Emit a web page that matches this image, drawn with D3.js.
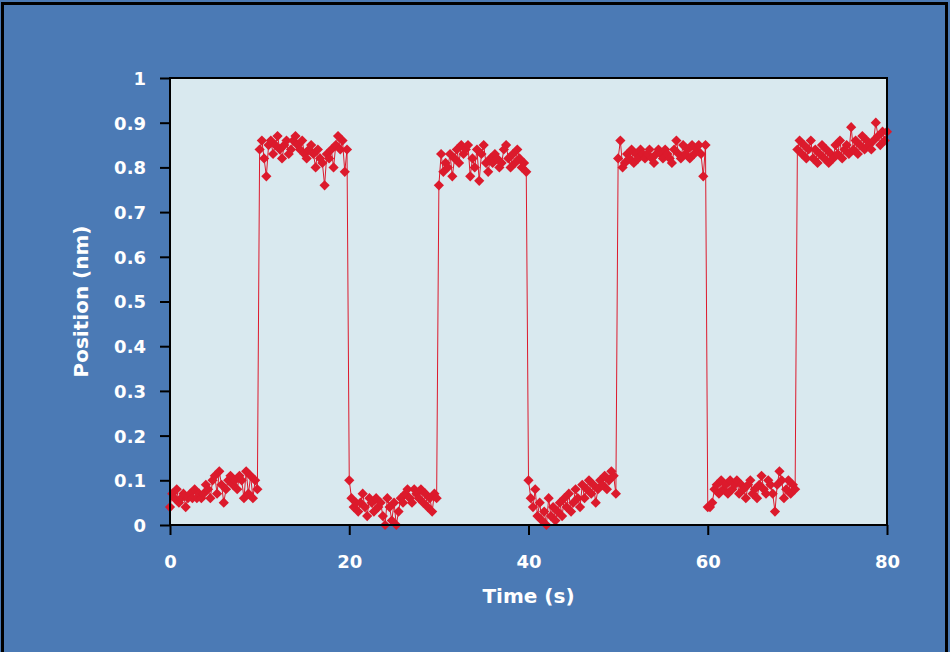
<!DOCTYPE html>
<html>
<head>
<meta charset="utf-8">
<script src="https://cdn.jsdelivr.net/npm/d3@7"></script>
<style>
  html, body { margin: 0; padding: 0; background: #ffffff; }
  svg { display: block; }
  .tick-label { font-family: "DejaVu Sans", sans-serif; font-weight: 700; font-size: 18px; fill: #ffffff; }
  .axis-title { font-family: "DejaVu Sans", sans-serif; font-weight: 700; font-size: 20px; fill: #ffffff; }
</style>
</head>
<body>
<svg id="chart" width="950" height="652"></svg>
<script>
// sample interval of the trace, seconds
const sampleStep = 0.25;

// position readings (nm), one array per 10 s dwell
const low1  = [0.04,0.07,0.06,0.08,0.05,0.06,0.07,0.04,0.06,0.07,
               0.06,0.08,0.06,0.07,0.06,0.07,0.09,0.08,0.06,0.10,
               0.11,0.07,0.12,0.09,0.05,0.08,0.10,0.11,0.09,0.10,
               0.08,0.11,0.10,0.06,0.12,0.07,0.11,0.06,0.10,0.08];
const high1 = [0.84,0.86,0.82,0.78,0.85,0.86,0.83,0.85,0.87,0.84,
               0.82,0.85,0.86,0.83,0.84,0.86,0.87,0.85,0.84,0.86,
               0.83,0.82,0.84,0.85,0.83,0.80,0.84,0.82,0.81,0.76,
               0.83,0.82,0.84,0.80,0.85,0.87,0.84,0.86,0.79,0.84];
const low2  = [0.10,0.06,0.04,0.05,0.03,0.05,0.07,0.04,0.02,0.06,
               0.05,0.03,0.06,0.04,0.05,0.02,0.00,0.06,0.04,0.01,
               0.05,0.00,0.03,0.06,0.05,0.07,0.08,0.06,0.05,0.08,
               0.07,0.06,0.08,0.05,0.07,0.04,0.06,0.03,0.07,0.06];
const high2 = [0.76,0.83,0.79,0.81,0.80,0.83,0.78,0.82,0.84,0.81,
               0.85,0.83,0.84,0.85,0.78,0.82,0.80,0.84,0.77,0.83,
               0.85,0.81,0.79,0.82,0.81,0.83,0.82,0.80,0.81,0.84,
               0.85,0.82,0.80,0.83,0.81,0.84,0.82,0.80,0.81,0.79];
const low3  = [0.10,0.06,0.04,0.08,0.02,0.05,0.01,0.03,0.00,0.06,
               0.02,0.04,0.01,0.03,0.05,0.02,0.06,0.04,0.07,0.03,
               0.05,0.08,0.06,0.04,0.09,0.06,0.08,0.10,0.07,0.09,
               0.05,0.08,0.10,0.09,0.11,0.08,0.10,0.12,0.11,0.07];
const high3 = [0.82,0.86,0.80,0.81,0.83,0.82,0.84,0.81,0.83,0.82,
               0.84,0.83,0.82,0.83,0.84,0.82,0.81,0.83,0.84,0.83,
               0.82,0.84,0.83,0.82,0.81,0.84,0.86,0.83,0.82,0.85,
               0.83,0.84,0.82,0.85,0.83,0.84,0.85,0.83,0.78,0.85];
const low4  = [0.04,0.04,0.05,0.08,0.09,0.07,0.10,0.08,0.09,0.07,
               0.10,0.08,0.09,0.10,0.07,0.09,0.08,0.06,0.09,0.10,
               0.07,0.08,0.06,0.09,0.11,0.08,0.07,0.10,0.09,0.07,
               0.03,0.09,0.12,0.10,0.06,0.08,0.10,0.07,0.09,0.08];
const high4 = [0.84,0.86,0.83,0.85,0.82,0.84,0.86,0.82,0.84,0.81,
               0.83,0.85,0.82,0.84,0.81,0.83,0.82,0.85,0.83,0.86,
               0.82,0.84,0.85,0.83,0.89,0.84,0.86,0.83,0.85,0.87,
               0.84,0.86,0.85,0.84,0.86,0.90,0.87,0.85,0.88,0.86,0.88];

const xTicks = [0, 20, 40, 60, 80];
const yTicks = [0, 0.1, 0.2, 0.3, 0.4, 0.5, 0.6, 0.7, 0.8, 0.9, 1];

const positions = [].concat(low1, high1, low2, high2, low3, high3, low4, high4);
const trace = positions.map(function (v, i) { return {t: i * sampleStep, pos: v}; });

const svg = d3.select("#chart");
const margin = {top: 78, right: 63, bottom: 127, left: 170};
const width = 950 - margin.left - margin.right;
const height = 652 - margin.top - margin.bottom;

// page background and outer frame
svg.append("rect")
    .attr("x", 0).attr("y", 0).attr("width", 950).attr("height", 652)
    .attr("fill", "#4b7ab5");
svg.append("rect")
    .attr("x", 2.5).attr("y", 3.5).attr("width", 944).attr("height", 660)
    .attr("fill", "none").attr("stroke", "#000").attr("stroke-width", 3);

const x = d3.scaleLinear().domain([0, 80]).range([0, width]);
const y = d3.scaleLinear().domain([0, 1]).range([height, 0]);

const plot = svg.append("g")
    .attr("transform", "translate(" + margin.left + "," + margin.top + ")");

plot.append("rect")
    .attr("width", width).attr("height", height)
    .attr("fill", "#d9e9ef");

/* axes: outward ticks, labels drawn separately */
const xAxis = plot.append("g")
    .attr("transform", "translate(0," + height + ")")
    .call(d3.axisBottom(x).tickValues(xTicks).tickSize(10).tickSizeOuter(0).tickFormat(""));
const yAxis = plot.append("g")
    .call(d3.axisLeft(y).tickValues(yTicks).tickSize(10).tickSizeOuter(0).tickFormat(""));
svg.selectAll(".domain").remove();
svg.selectAll(".tick line").attr("stroke", "#000").attr("stroke-width", 2);

xAxis.selectAll(".tick").append("text")
    .attr("class", "tick-label")
    .attr("y", 43)
    .attr("text-anchor", "middle")
    .text(function (d) { return d; });
yAxis.selectAll(".tick").append("text")
    .attr("class", "tick-label")
    .attr("x", -24)
    .attr("dy", "0.36em")
    .attr("text-anchor", "end")
    .text(function (d) { return d; });

// the trace
const line = d3.line()
    .x(function (d) { return x(d.t); })
    .y(function (d) { return y(d.pos); });

plot.append("path")
    .datum(trace)
    .attr("d", line)
    .attr("fill", "none")
    .attr("stroke", "#dc1a2c")
    .attr("stroke-width", 1);

const diamond = d3.symbol().type(d3.symbolSquare).size(52);
plot.selectAll("path.pt")
    .data(trace)
    .enter()
    .append("path")
    .attr("class", "pt")
    .attr("d", diamond)
    .attr("transform", function (d) { return "translate(" + x(d.t) + "," + y(d.pos) + ") rotate(45)"; })
    .attr("fill", "#dc1a2c");

// plot frame on top
plot.append("rect")
    .attr("width", width).attr("height", height)
    .attr("fill", "none").attr("stroke", "#000").attr("stroke-width", 2);

svg.append("text")
    .attr("class", "axis-title")
    .attr("x", margin.left + width / 2)
    .attr("y", 603)
    .attr("text-anchor", "middle")
    .text("Time (s)");

svg.append("text")
    .attr("class", "axis-title")
    .attr("transform", "translate(88," + (margin.top + height / 2) + ") rotate(-90)")
    .attr("text-anchor", "middle")
    .text("Position (nm)");
</script>
</body>
</html>
